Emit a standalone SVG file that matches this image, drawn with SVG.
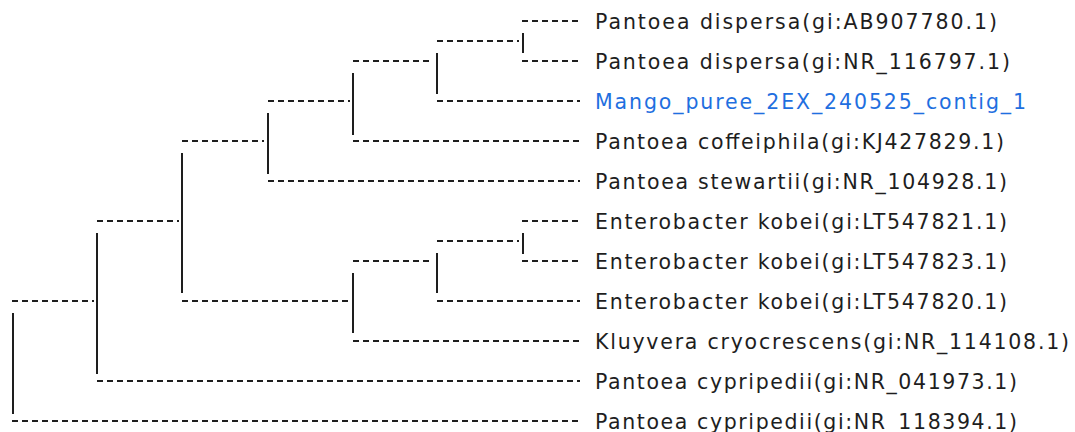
<svg xmlns="http://www.w3.org/2000/svg" width="1075" height="432" viewBox="0 0 1075 432">
  <style>
    .bg { fill: #ffffff; }
    .edge { stroke: #1e1e1e; stroke-width: 2; stroke-dasharray: 6 4; fill: none; }
    .vert { stroke: #1e1e1e; stroke-width: 2; fill: none; }
    .lbl { font-family: "DejaVu Sans", "Liberation Sans", sans-serif; font-size: 20.5px; fill: #1e1e1e; }
    .query { fill: #1f6fe0; }
  </style>
  <rect class="bg" x="0" y="0" width="1075" height="432"/>

  <g id="connectors">
    <line class="edge" x1="12" y1="301" x2="94" y2="301"/>
    <line class="edge" x1="97" y1="221" x2="179" y2="221"/>
    <line class="edge" x1="182" y1="141" x2="264" y2="141"/>
    <line class="edge" x1="268" y1="101" x2="350" y2="101"/>
    <line class="edge" x1="353" y1="61" x2="433" y2="61"/>
    <line class="edge" x1="437" y1="41" x2="519" y2="41"/>
    <line class="edge" x1="182" y1="301" x2="350" y2="301"/>
    <line class="edge" x1="353" y1="261" x2="433" y2="261"/>
    <line class="edge" x1="437" y1="241" x2="519" y2="241"/>
    <line class="edge" x1="522" y1="21" x2="580" y2="21"/>
    <line class="edge" x1="522" y1="61" x2="580" y2="61"/>
    <line class="edge" x1="437" y1="101" x2="580" y2="101"/>
    <line class="edge" x1="353" y1="141" x2="580" y2="141"/>
    <line class="edge" x1="268" y1="181" x2="580" y2="181"/>
    <line class="edge" x1="522" y1="221" x2="580" y2="221"/>
    <line class="edge" x1="522" y1="261" x2="580" y2="261"/>
    <line class="edge" x1="437" y1="301" x2="580" y2="301"/>
    <line class="edge" x1="353" y1="341" x2="580" y2="341"/>
    <line class="edge" x1="97" y1="381" x2="580" y2="381"/>
    <line class="edge" x1="12" y1="421" x2="580" y2="421"/>
  </g>

  <g id="node-root"><line class="vert" x1="13" y1="313" x2="13" y2="414"/></g>
  <g id="node-a"><line class="vert" x1="97" y1="233" x2="97" y2="374"/></g>
  <g id="node-b"><line class="vert" x1="182" y1="153" x2="182" y2="293"/></g>
  <g id="node-c"><line class="vert" x1="268" y1="113" x2="268" y2="174"/></g>
  <g id="node-d"><line class="vert" x1="353" y1="73" x2="353" y2="135"/></g>
  <g id="node-g"><line class="vert" x1="437" y1="53" x2="437" y2="94"/></g>
  <g id="node-f"><line class="vert" x1="523" y1="33" x2="523" y2="53"/></g>
  <g id="node-e"><line class="vert" x1="353" y1="273" x2="353" y2="333"/></g>
  <g id="node-h"><line class="vert" x1="437" y1="253" x2="437" y2="293"/></g>
  <g id="node-i"><line class="vert" x1="523" y1="233" x2="523" y2="254"/></g>

  <g id="leaf-1"><text class="lbl" x="595" y="29" textLength="402" lengthAdjust="spacing">Pantoea dispersa(gi:AB907780.1)</text></g>
  <g id="leaf-2"><text class="lbl" x="595" y="69" textLength="415" lengthAdjust="spacing">Pantoea dispersa(gi:NR_116797.1)</text></g>
  <g id="leaf-3"><text class="lbl query" x="595" y="109" textLength="431" lengthAdjust="spacing">Mango_puree_2EX_240525_contig_1</text></g>
  <g id="leaf-4"><text class="lbl" x="595" y="149" textLength="409" lengthAdjust="spacing">Pantoea coffeiphila(gi:KJ427829.1)</text></g>
  <g id="leaf-5"><text class="lbl" x="595" y="189" textLength="412" lengthAdjust="spacing">Pantoea stewartii(gi:NR_104928.1)</text></g>
  <g id="leaf-6"><text class="lbl" x="595" y="229" textLength="412" lengthAdjust="spacing">Enterobacter kobei(gi:LT547821.1)</text></g>
  <g id="leaf-7"><text class="lbl" x="595" y="269" textLength="412" lengthAdjust="spacing">Enterobacter kobei(gi:LT547823.1)</text></g>
  <g id="leaf-8"><text class="lbl" x="595" y="309" textLength="412" lengthAdjust="spacing">Enterobacter kobei(gi:LT547820.1)</text></g>
  <g id="leaf-9"><text class="lbl" x="595" y="349" textLength="474" lengthAdjust="spacing">Kluyvera cryocrescens(gi:NR_114108.1)</text></g>
  <g id="leaf-10"><text class="lbl" x="595" y="389" textLength="422" lengthAdjust="spacing">Pantoea cypripedii(gi:NR_041973.1)</text></g>
  <g id="leaf-11"><text class="lbl" x="595" y="429" textLength="422" lengthAdjust="spacing">Pantoea cypripedii(gi:NR_118394.1)</text></g>
</svg>
